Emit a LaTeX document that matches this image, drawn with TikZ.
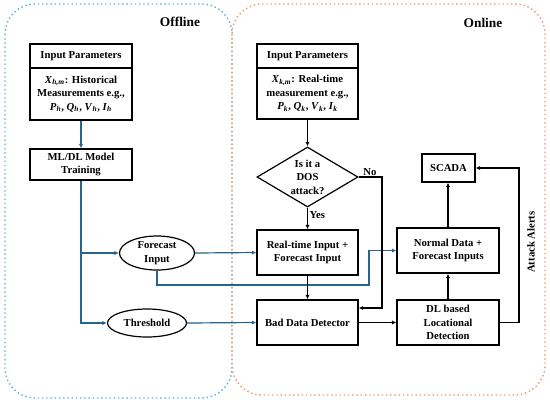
\documentclass[tikz,border=0pt]{standalone}
\usepackage{fontspec}
\setmainfont{Liberation Serif}
\usetikzlibrary{shapes.geometric,arrows.meta}
\newcommand{\msym}[2]{\textit{#1}\textsubscript{\textit{#2}}}
\definecolor{flowblue}{RGB}{40,100,140}
\definecolor{offblue}{RGB}{80,180,225}
\definecolor{onorange}{RGB}{240,150,105}
\tikzset{
  box/.style={draw, line width=0.85pt, rectangle, inner sep=0pt, align=center,
    font=\fontsize{7.6}{9.6}\selectfont\bfseries},
  oval/.style={draw, line width=0.85pt, ellipse, inner sep=0pt, align=center,
    font=\fontsize{7.6}{9.6}\selectfont\bfseries},
  decision/.style={draw, line width=0.85pt, diamond, aspect=1.68, inner sep=0pt, align=center,
    minimum width=2.525cm, minimum height=1.5cm, font=\fontsize{7.6}{9.6}\selectfont\bfseries},
  lbl/.style={font=\fontsize{7.6}{9.6}\selectfont\bfseries, inner sep=1pt},
  blueline/.style={draw=flowblue, line width=0.85pt, -{Latex[length=3.2pt,width=3pt]}},
  blackline/.style={draw=black, line width=0.85pt, -{Latex[length=3.2pt,width=3pt]}},
}
\begin{document}
\begin{tikzpicture}[x=0.025cm, y=-0.025cm]
\useasboundingbox (0,0) rectangle (550,403);

% Offline and online regions
\draw[offblue, line width=1pt, dotted, rounded corners=0.75cm] (5,4) rectangle (232,398);
\draw[onorange, line width=1pt, dotted, rounded corners=0.75cm] (232,4) rectangle (545,395);
\node[font=\fontsize{9.5}{11}\selectfont\bfseries] (offtitle) at (180,22) {Offline};
\node[font=\fontsize{9.5}{11}\selectfont\bfseries] (ontitle) at (483,23) {Online};

% Offline blocks
\node[box, minimum width=2.55cm, minimum height=0.6cm] (inLhead) at (81,56) {Input Parameters};
\node[box, minimum width=2.55cm, minimum height=1.3cm] (inLbody) at (81,94)
  {\msym{X}{h,m}: Historical\\Measurements e.g.,\\\msym{P}{h}, \msym{Q}{h}, \msym{V}{h}, \msym{I}{h}};
\node[box, minimum width=2.55cm, minimum height=0.775cm] (train) at (81,164.5) {ML/DL Model\\Training};
\node[oval, minimum width=1.875cm, minimum height=0.85cm] (fc) at (157,253) {Forecast\\Input};
\node[oval, minimum width=1.975cm, minimum height=0.7cm] (thr) at (147,323) {Threshold};

% Online blocks
\node[box, minimum width=2.525cm, minimum height=0.6cm] (inRhead) at (307.5,56) {Input Parameters};
\node[box, minimum width=2.525cm, minimum height=1.275cm] (inRbody) at (307.5,93.5)
  {\msym{X}{k,m}: Real-time\\measurement e.g.,\\\msym{P}{k}, \msym{Q}{k}, \msym{V}{k}, \msym{I}{k}};
\node[decision] (dos) at (307.5,177) {Is it a\\DOS\\attack?};
\node[box, minimum width=2.525cm, minimum height=1.125cm] (rt) at (307.5,252.5) {Real-time Input +\\Forecast Input};
\node[box, minimum width=2.525cm, minimum height=1.125cm] (bdd) at (307.5,322.5) {Bad Data Detector};
\node[box, minimum width=2.55cm, minimum height=1.125cm] (dl) at (448,322.5) {DL based\\Locational\\Detection};
\node[box, minimum width=2.55cm, minimum height=1.125cm] (nd) at (448,250.5) {Normal Data +\\Forecast Inputs};
\node[box, minimum width=1.325cm, minimum height=0.7cm] (scada) at (448.5,168) {SCADA};

% Bend points
\coordinate (fcbend) at (369,285);
\coordinate (noend) at (382,308);
\coordinate (alertx) at (519,322.5);

% Offline connectors
\draw[blueline] (inLbody.south) -- (train.north);
\draw[blueline] (train.south) |- (thr.west);
\draw[blueline] (train.south |- fc.west) -- (fc.west);
\draw[blueline] (fc.east) -- (rt.west);
\draw[blueline] (fc.south) |- (fcbend) |- (nd.west);
\draw[blueline] (thr.east) -- (bdd.west);

% Online connectors
\draw[blackline] (inRbody.south) -- (dos.north);
\draw[blackline] (dos.south) -- node[lbl, right, pos=0.35] (yes) {Yes} (rt.north);
\draw[blackline] (dos.east) -| (noend) -- (bdd.east |- noend);
\node[lbl] (no) at (370,172) {No};
\draw[blackline] (rt.south) -- (bdd.north);
\draw[blackline] (bdd.east) -- (dl.west);
\draw[blackline] (dl.north) -- (nd.south);
\draw[blackline] (nd.north) -- (nd.north |- scada.south);
\draw[blackline] (dl.east) -- (alertx) |- (scada.east);
\node[lbl, rotate=90] (alerts) at (531,242) {Attack Alerts};
\end{tikzpicture}
\end{document}
